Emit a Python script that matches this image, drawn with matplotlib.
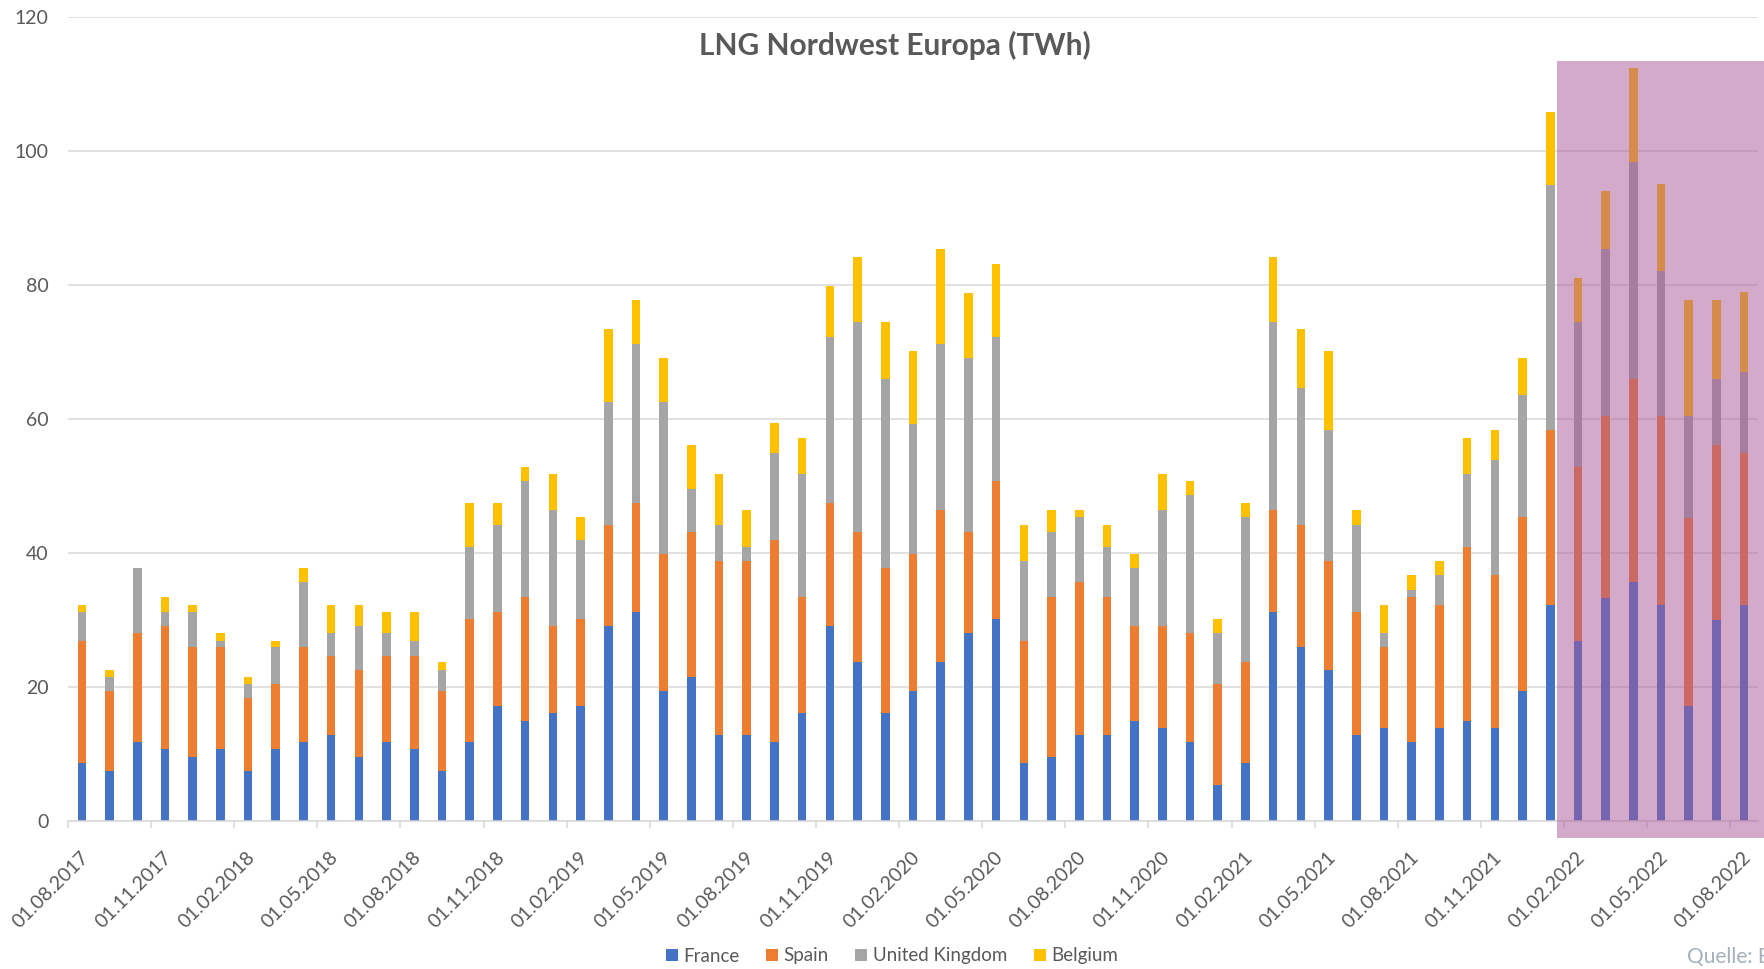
import numpy as np
import pandas as pd
import matplotlib
matplotlib.use("Agg")
import matplotlib.pyplot as plt
from matplotlib.patches import Patch, Rectangle
from matplotlib.transforms import ScaledTranslation

plt.rcParams['font.family'] = ['Lato', 'DejaVu Sans']

# monthly categories, Aug 2017 .. Aug 2022
months = pd.date_range("2017-08-01", "2022-08-01", freq="MS")

# TWh per country (stack segments)
france = [8.6, 7.4, 11.8, 10.7, 9.6, 10.7, 7.4, 10.7, 11.8, 12.9, 9.6, 11.8,
          10.7, 7.4, 11.8, 17.2, 15.0, 16.1, 17.2, 29.1, 31.2, 19.4, 21.5, 12.9,
          12.9, 11.8, 16.1, 29.1, 23.7, 16.1, 19.4, 23.7, 28.0, 30.1, 8.6, 9.6,
          12.9, 12.9, 15.0, 13.9, 11.8, 5.3, 8.6, 31.2, 25.9, 22.6, 12.9, 13.9,
          11.8, 13.9, 15.0, 13.9, 19.4, 32.3, 26.8, 33.3, 35.6, 32.3, 17.1, 30.0,
          32.3]
spain = [18.3, 12.0, 16.2, 18.4, 16.3, 15.2, 10.9, 9.7, 14.1, 11.8, 13.0, 12.9,
         14.0, 12.0, 18.3, 14.0, 18.4, 13.0, 12.9, 15.1, 16.3, 20.5, 21.6, 25.9,
         25.9, 30.2, 17.3, 18.4, 19.4, 21.7, 20.5, 22.7, 15.1, 20.6, 18.3, 23.8,
         22.7, 20.5, 14.1, 15.2, 16.2, 15.1, 15.1, 15.2, 18.3, 16.2, 18.3, 12.0,
         21.6, 18.4, 25.9, 22.8, 25.9, 26.0, 26.0, 27.1, 30.3, 28.1, 28.1, 26.1,
         22.7]
uk = [4.3, 2.1, 9.8, 2.1, 5.3, 1.0, 2.1, 5.5, 9.7, 3.3, 6.5, 3.3,
      2.2, 3.2, 10.8, 13.0, 17.3, 17.3, 11.9, 18.4, 23.7, 22.7, 6.5, 5.4,
      2.1, 13.0, 18.4, 24.8, 31.4, 28.1, 19.4, 24.8, 26.0, 21.6, 11.9, 9.7,
      9.7, 7.5, 8.7, 17.3, 20.6, 7.6, 21.6, 28.1, 20.5, 19.5, 13.0, 2.1,
      1.1, 4.4, 10.9, 17.2, 18.3, 36.7, 21.7, 24.9, 32.4, 21.7, 15.2, 9.8,
      12.0]
belgium = [1.1, 1.1, 0.0, 2.2, 1.1, 1.1, 1.1, 1.0, 2.2, 4.3, 3.2, 3.2,
           4.3, 1.1, 6.6, 3.3, 2.2, 5.4, 3.3, 10.8, 6.6, 6.5, 6.5, 7.6,
           5.5, 4.4, 5.4, 7.6, 9.7, 8.6, 10.8, 14.1, 9.7, 10.8, 5.4, 3.3,
           1.1, 3.3, 2.1, 5.4, 2.1, 2.1, 2.2, 9.7, 8.7, 11.8, 2.2, 4.3,
           2.2, 2.1, 5.4, 4.4, 5.5, 10.8, 6.5, 8.7, 14.1, 13.0, 17.4, 11.9,
           11.9]

series = [("France", france, "#4472C4"),
          ("Spain", spain, "#ED7D31"),
          ("United Kingdom", uk, "#A5A5A5"),
          ("Belgium", belgium, "#FFC000")]

W, H = 1764, 969
fig = plt.figure(figsize=(W / 100, H / 100), dpi=100)
ax = fig.add_axes([68 / W, 1 - 821 / H, (1758 - 68) / W, (821 - 17) / H])

x = np.arange(len(months))
bottom = np.zeros(len(months))
for name, vals, col in series:
    ax.bar(x, vals, 0.31, bottom=bottom, color=col, label=name, zorder=2)
    bottom += np.array(vals)

ax.set_xlim(-0.5, len(months) - 0.5)
ax.set_ylim(0, 120)
ax.set_yticks(range(0, 121, 20))
ax.grid(axis='y', color='#D9D9D9', lw=1.1)
ax.set_axisbelow(True)
for s in ['left', 'right', 'top']:
    ax.spines[s].set_visible(False)
ax.spines['bottom'].set_color('#D9D9D9')
ax.spines['bottom'].set_linewidth(1.1)
ax.tick_params(axis='y', length=0, pad=14, labelsize=14, labelcolor='#595959')

ax.set_xticks(x[::3] - 0.5)
ax.set_xticklabels([m.strftime('%d.%m.%Y') for m in months[::3]],
                   rotation=45, ha='right', va='center', rotation_mode='anchor')
ax.tick_params(axis='x', length=5, width=1.1, color='#D9D9D9', pad=19,
               labelsize=14, labelcolor='#595959')
offset = ScaledTranslation(0.18, 0, fig.dpi_scale_trans)
for lab in ax.get_xticklabels():
    lab.set_transform(lab.get_transform() + offset)

fig.text(895 / W, 1 - 55 / H, "LNG Nordwest Europa (TWh)", ha='center',
         va='baseline', fontsize=21.5, fontweight='bold', color='#595959')

# highlighted period
fig.add_artist(Rectangle((1557 / W, 1 - 838 / H), (W - 1557) / W + 0.01, (838 - 61) / H,
                         transform=fig.transFigure, facecolor='#AA5799', alpha=0.5,
                         edgecolor='none', zorder=10))

handles = [Patch(facecolor=c, label=n) for n, _, c in series]
fig.legend(handles=handles, loc='center', bbox_to_anchor=(892 / W, 1 - 956 / H),
           ncol=4, frameon=False, fontsize=13.5, handlelength=0.65, handleheight=0.65,
           handletextpad=0.3, columnspacing=1.4, labelcolor='#595959')

fig.text(1687 / W, 1 - 963 / H, "Quelle: E", ha='left', va='baseline',
         fontsize=15, color='#A6B0BD')

fig.savefig("out.png", dpi=100)
